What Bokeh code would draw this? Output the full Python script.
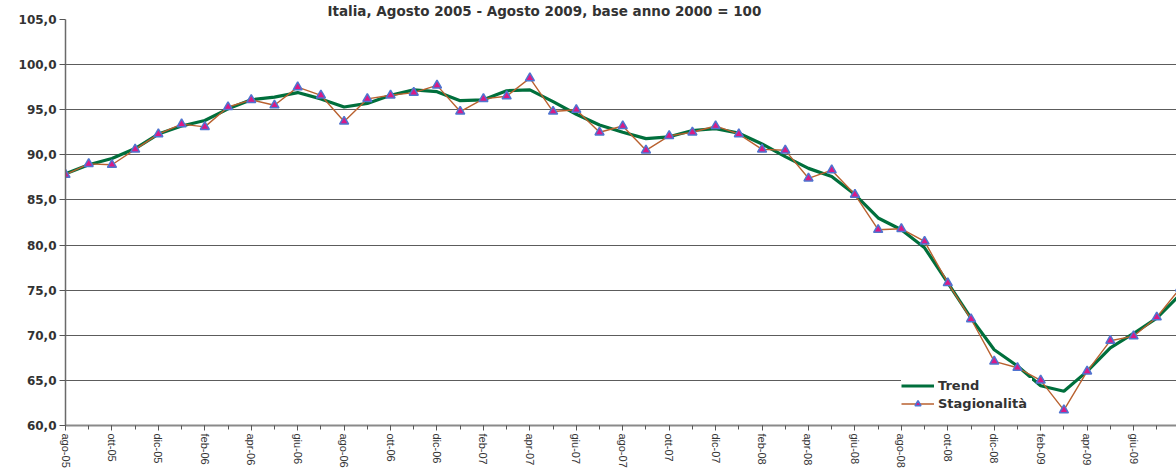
from bokeh.plotting import figure
from bokeh.models import Range1d, FixedTicker, Legend, LegendItem
from bokeh.embed import file_html
from bokeh.resources import INLINE

title_text = "Italia, Agosto 2005 - Agosto 2009, base anno 2000 = 100"

months = ["ago-05", "set-05", "ott-05", "nov-05", "dic-05", "gen-06", "feb-06", "mar-06",
          "apr-06", "mag-06", "giu-06", "lug-06", "ago-06", "set-06", "ott-06", "nov-06",
          "dic-06", "gen-07", "feb-07", "mar-07", "apr-07", "mag-07", "giu-07", "lug-07",
          "ago-07", "set-07", "ott-07", "nov-07", "dic-07", "gen-08", "feb-08", "mar-08",
          "apr-08", "mag-08", "giu-08", "lug-08", "ago-08", "set-08", "ott-08", "nov-08",
          "dic-08", "gen-09", "feb-09", "mar-09", "apr-09", "mag-09", "giu-09", "lug-09",
          "ago-09"]

trend = [87.9, 88.9, 89.6, 90.7, 92.3, 93.2, 93.8, 95.1, 96.1, 96.4, 96.9, 96.2,
         95.3, 95.7, 96.6, 97.2, 97.0, 96.0, 96.1, 97.1, 97.2, 95.9, 94.5, 93.3,
         92.5, 91.8, 92.0, 92.7, 92.9, 92.4, 91.2, 89.8, 88.5, 87.6, 85.6, 83.0,
         81.7, 79.7, 75.8, 71.9, 68.4, 66.6, 64.4, 63.8, 66.0, 68.6, 70.2, 71.9,
         74.5]

stagionalita = [87.8, 89.0, 88.9, 90.6, 92.3, 93.4, 93.1, 95.3, 96.1, 95.5, 97.5, 96.6,
                93.7, 96.2, 96.6, 96.9, 97.7, 94.8, 96.2, 96.5, 98.5, 94.8, 95.0, 92.5,
                93.2, 90.5, 92.1, 92.5, 93.2, 92.3, 90.6, 90.5, 87.4, 88.3, 85.6, 81.7,
                81.8, 80.4, 75.8, 71.8, 67.1, 66.4, 65.0, 61.7, 66.0, 69.4, 69.9, 72.0,
                75.2]

y_ticks = [60, 65, 70, 75, 80, 85, 90, 95, 100, 105]

x = list(range(len(months)))

FONT = "DejaVu Sans"
TXT = "#333333"

p = figure(width=1176, height=470, output_backend="svg", toolbar_location=None,
           x_range=Range1d(0, 47.85), y_range=Range1d(60, 105),
           min_border_left=65, min_border_right=0, min_border_top=0, min_border_bottom=2)

p.title.text = title_text
p.title.text_font = FONT
p.title.text_font_size = "13.5px"
p.title.text_font_style = "bold"
p.title.text_color = TXT
p.title.align = "left"
p.title.offset = 262
p.title.standoff = 1

p.outline_line_color = None
p.background_fill_color = "white"
p.border_fill_color = "white"

# axes
p.xaxis.ticker = FixedTicker(ticks=x[::2], minor_ticks=x)
p.xaxis.major_label_overrides = {i: m for i, m in enumerate(months)}
p.xaxis.major_label_orientation = "vertical"
p.xaxis.major_label_text_font = "Liberation Sans"
p.xaxis.major_label_text_font_size = "11px"
p.xaxis.major_label_text_color = TXT
p.xaxis.axis_line_color = "#8a8a8a"
p.xaxis.axis_line_width = 2
p.xaxis.major_tick_line_color = "#555555"
p.xaxis.minor_tick_line_color = "#555555"
p.xaxis.major_tick_in = 0
p.xaxis.major_tick_out = 5
p.xaxis.minor_tick_in = 0
p.xaxis.minor_tick_out = 4
p.xaxis.major_label_standoff = 3

p.yaxis.ticker = FixedTicker(ticks=y_ticks)
p.yaxis.major_label_overrides = {v: f"{v:.1f}".replace(".", ",") for v in y_ticks}
p.yaxis.major_label_text_font = FONT
p.yaxis.major_label_text_font_size = "12px"
p.yaxis.major_label_text_font_style = "bold"
p.yaxis.major_label_text_color = TXT
p.yaxis.axis_line_color = "#6a6a6a"
p.yaxis.axis_line_width = 1.5
p.yaxis.major_tick_line_color = "#555555"
p.yaxis.major_tick_in = 0
p.yaxis.major_tick_out = 6
p.yaxis.minor_tick_line_color = None
p.yaxis.major_label_standoff = 3

p.xgrid.visible = False
p.ygrid.grid_line_color = "#5c5c5c"
p.ygrid.grid_line_width = 1.2

r_trend = p.line(x, trend, line_color="#006F3C", line_width=3.2)
r_stag_line = p.line(x, stagionalita, line_color="#B9612F", line_width=1.4)
r_stag_pts = p.scatter(x, stagionalita, marker="triangle", size=9,
                       fill_color="#DA1A86", line_color="#4F74D0", line_width=1.5)

legend = Legend(items=[LegendItem(label="Trend", renderers=[r_trend]),
                       LegendItem(label="Stagionalità", renderers=[r_stag_line, r_stag_pts])],
                location=(836, 14))
legend.label_text_font = FONT
legend.label_text_font_size = "13px"
legend.label_text_font_style = "bold"
legend.label_text_color = TXT
legend.border_line_color = None
legend.background_fill_color = "white"
legend.background_fill_alpha = 1.0
legend.glyph_width = 33
legend.glyph_height = 15
legend.label_height = 15
legend.label_width = 94
legend.spacing = 3
legend.padding = 8
legend.margin = 0
legend.label_standoff = 4
p.add_layout(legend, "center")

open("out.html", "w").write(file_html(p, INLINE))
